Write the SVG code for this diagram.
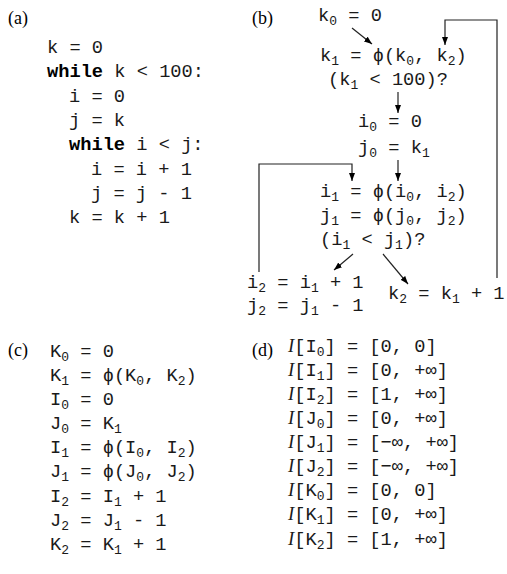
<svg xmlns="http://www.w3.org/2000/svg" width="507" height="574" viewBox="0 0 507 574">
<style>
.lbl{font-family:"Liberation Serif","Times New Roman",serif;font-size:18px;fill:#000}
.c{font-family:"Liberation Mono","DejaVu Sans Mono",monospace;font-size:18.7px;fill:#1a1a1a}
.b{font-weight:bold;fill:#000}
.s{font-size:13px}
.it{font-family:"Liberation Serif","Times New Roman",serif;font-style:italic}
.e{fill:none;stroke:#222;stroke-width:1.2}
</style>
<defs>
<marker id="ah" markerWidth="8" markerHeight="6" refX="8" refY="3" orient="auto" markerUnits="userSpaceOnUse"><path d="M0,0 L8,3 L0,6 z" fill="#000"/></marker>
</defs>
<rect width="507" height="574" fill="#fff"/>

<g id="panel-a">
<text class="lbl" x="8" y="24">(a)</text>
<text class="c" x="47" y="53">k = 0</text>
<text class="c" x="47" y="77"><tspan class="b">while</tspan> k &lt; 100:</text>
<text class="c" x="69" y="102">i = 0</text>
<text class="c" x="69" y="126">j = k</text>
<text class="c" x="69" y="150"><tspan class="b">while</tspan> i &lt; j:</text>
<text class="c" x="91" y="175">i = i + 1</text>
<text class="c" x="91" y="199">j = j - 1</text>
<text class="c" x="69" y="223">k = k + 1</text>
</g>

<g id="panel-b">
<text class="lbl" x="252" y="24">(b)</text>
<g id="n-k0"><text class="c" x="318" y="21">k<tspan class="s" dy="4">0</tspan><tspan dy="-4"> = 0</tspan></text></g>
<g id="n-k1"><text class="c" x="320" y="61">k<tspan class="s" dy="4">1</tspan><tspan dy="-4"> = ϕ(k</tspan><tspan class="s" dy="4">0</tspan><tspan dy="-4">, k</tspan><tspan class="s" dy="4">2</tspan><tspan dy="-4">)</tspan></text>
<text class="c" x="328" y="85">(k<tspan class="s" dy="4">1</tspan><tspan dy="-4"> &lt; 100)?</tspan></text></g>
<g id="n-i0"><text class="c" x="358" y="127">i<tspan class="s" dy="4">0</tspan><tspan dy="-4"> = 0</tspan></text>
<text class="c" x="358" y="153">j<tspan class="s" dy="4">0</tspan><tspan dy="-4"> = k</tspan><tspan class="s" dy="4">1</tspan></text></g>
<g id="n-i1"><text class="c" x="320" y="197">i<tspan class="s" dy="4">1</tspan><tspan dy="-4"> = ϕ(i</tspan><tspan class="s" dy="4">0</tspan><tspan dy="-4">, i</tspan><tspan class="s" dy="4">2</tspan><tspan dy="-4">)</tspan></text>
<text class="c" x="320" y="221">j<tspan class="s" dy="4">1</tspan><tspan dy="-4"> = ϕ(j</tspan><tspan class="s" dy="4">0</tspan><tspan dy="-4">, j</tspan><tspan class="s" dy="4">2</tspan><tspan dy="-4">)</tspan></text>
<text class="c" x="320" y="245">(i<tspan class="s" dy="4">1</tspan><tspan dy="-4"> &lt; j</tspan><tspan class="s" dy="4">1</tspan><tspan dy="-4">)?</tspan></text></g>
<g id="n-i2"><text class="c" x="247" y="288">i<tspan class="s" dy="4">2</tspan><tspan dy="-4"> = i</tspan><tspan class="s" dy="4">1</tspan><tspan dy="-4"> + 1</tspan></text>
<text class="c" x="247" y="311">j<tspan class="s" dy="4">2</tspan><tspan dy="-4"> = j</tspan><tspan class="s" dy="4">1</tspan><tspan dy="-4"> - 1</tspan></text></g>
<g id="n-k2"><text class="c" x="388" y="299">k<tspan class="s" dy="4">2</tspan><tspan dy="-4"> = k</tspan><tspan class="s" dy="4">1</tspan><tspan dy="-4"> + 1</tspan></text></g>
<g id="connectors">
<line class="e" x1="352" y1="28" x2="372" y2="44" marker-end="url(#ah)"/>
<line class="e" x1="398" y1="92" x2="398" y2="113" marker-end="url(#ah)"/>
<line class="e" x1="398" y1="160" x2="398" y2="181" marker-end="url(#ah)"/>
<path class="e" d="M259,272 V164 H352 V181" marker-end="url(#ah)"/>
<line class="e" x1="353" y1="254" x2="334" y2="270" marker-end="url(#ah)"/>
<line class="e" x1="383" y1="254" x2="408" y2="284" marker-end="url(#ah)"/>
<path class="e" d="M497,278 V20 H445 V45" marker-end="url(#ah)"/>
</g>
</g>

<g id="panel-c">
<text class="lbl" x="8" y="356">(c)</text>
<text class="c" x="50" y="357">K<tspan class="s" dy="4">0</tspan><tspan dy="-4"> = 0</tspan></text>
<text class="c" x="50" y="381">K<tspan class="s" dy="4">1</tspan><tspan dy="-4"> = ϕ(K</tspan><tspan class="s" dy="4">0</tspan><tspan dy="-4">, K</tspan><tspan class="s" dy="4">2</tspan><tspan dy="-4">)</tspan></text>
<text class="c" x="50" y="405">I<tspan class="s" dy="4">0</tspan><tspan dy="-4"> = 0</tspan></text>
<text class="c" x="50" y="429">J<tspan class="s" dy="4">0</tspan><tspan dy="-4"> = K</tspan><tspan class="s" dy="4">1</tspan></text>
<text class="c" x="50" y="453">I<tspan class="s" dy="4">1</tspan><tspan dy="-4"> = ϕ(I</tspan><tspan class="s" dy="4">0</tspan><tspan dy="-4">, I</tspan><tspan class="s" dy="4">2</tspan><tspan dy="-4">)</tspan></text>
<text class="c" x="50" y="477">J<tspan class="s" dy="4">1</tspan><tspan dy="-4"> = ϕ(J</tspan><tspan class="s" dy="4">0</tspan><tspan dy="-4">, J</tspan><tspan class="s" dy="4">2</tspan><tspan dy="-4">)</tspan></text>
<text class="c" x="50" y="502">I<tspan class="s" dy="4">2</tspan><tspan dy="-4"> = I</tspan><tspan class="s" dy="4">1</tspan><tspan dy="-4"> + 1</tspan></text>
<text class="c" x="50" y="526">J<tspan class="s" dy="4">2</tspan><tspan dy="-4"> = J</tspan><tspan class="s" dy="4">1</tspan><tspan dy="-4"> - 1</tspan></text>
<text class="c" x="50" y="550">K<tspan class="s" dy="4">2</tspan><tspan dy="-4"> = K</tspan><tspan class="s" dy="4">1</tspan><tspan dy="-4"> + 1</tspan></text>
</g>

<g id="panel-d">
<text class="lbl" x="252" y="356">(d)</text>
<text class="c" x="288" y="352"><tspan class="it">I</tspan>[I<tspan class="s" dy="4">0</tspan><tspan dy="-4">] = [0, 0]</tspan></text>
<text class="c" x="288" y="376"><tspan class="it">I</tspan>[I<tspan class="s" dy="4">1</tspan><tspan dy="-4">] = [0, +∞]</tspan></text>
<text class="c" x="288" y="400"><tspan class="it">I</tspan>[I<tspan class="s" dy="4">2</tspan><tspan dy="-4">] = [1, +∞]</tspan></text>
<text class="c" x="288" y="424"><tspan class="it">I</tspan>[J<tspan class="s" dy="4">0</tspan><tspan dy="-4">] = [0, +∞]</tspan></text>
<text class="c" x="288" y="448"><tspan class="it">I</tspan>[J<tspan class="s" dy="4">1</tspan><tspan dy="-4">] = [−∞, +∞]</tspan></text>
<text class="c" x="288" y="472"><tspan class="it">I</tspan>[J<tspan class="s" dy="4">2</tspan><tspan dy="-4">] = [−∞, +∞]</tspan></text>
<text class="c" x="288" y="496"><tspan class="it">I</tspan>[K<tspan class="s" dy="4">0</tspan><tspan dy="-4">] = [0, 0]</tspan></text>
<text class="c" x="288" y="520"><tspan class="it">I</tspan>[K<tspan class="s" dy="4">1</tspan><tspan dy="-4">] = [0, +∞]</tspan></text>
<text class="c" x="288" y="545"><tspan class="it">I</tspan>[K<tspan class="s" dy="4">2</tspan><tspan dy="-4">] = [1, +∞]</tspan></text>
</g>
</svg>
